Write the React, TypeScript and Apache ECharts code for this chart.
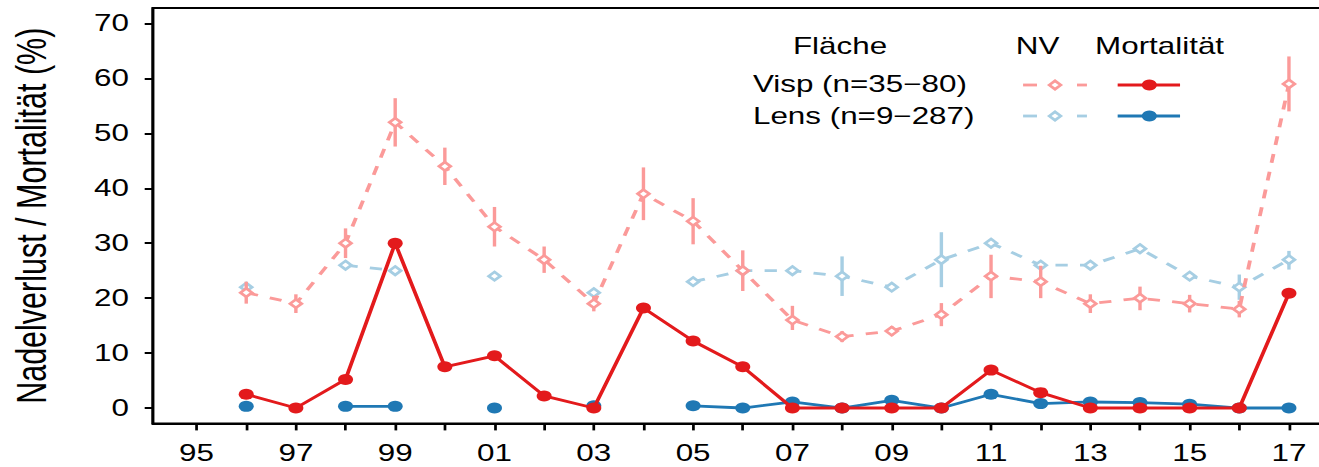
import React, { useEffect, useRef } from "react";
import * as echarts from "echarts";

// ---------- data ----------
const years = [1996, 1997, 1998, 1999, 2000, 2001, 2002, 2003, 2004, 2005, 2006, 2007, 2008, 2009, 2010, 2011, 2012, 2013, 2014, 2015, 2016, 2017];

const vispNV = [21, 19, 30, 52, 44, 33, 27, 19, 39, 34, 25, 16, 13, 14, 17, 24, 23, 19, 20, 19, 18, 59];
const vispNVLo = [19, 17.3, 27.3, 47.6, 40.6, 29.4, 24.6, 17.6, 34.2, 29.8, 21.3, 14.2, 12, 13.1, 14.9, 20, 20, 17.3, 17.8, 17.4, 16.5, 54];
const vispNVHi = [23, 20.7, 32.7, 56.4, 47.4, 36.6, 29.4, 20.4, 43.8, 38.2, 28.7, 18.6, 14, 14.9, 19.1, 27.9, 25.9, 20.7, 22.1, 20.6, 19.5, 64];

const lensNV = [22, null, 26, 25, null, 24, null, 21, null, 23, 25, 25, 24, 22, 27, 30, 26, 26, 29, 24, 22, 27];
const lensNVLo = [21.3, null, 25.6, 24.6, null, 23.6, null, 20.6, null, 22.6, 24.5, 24.5, 20.4, 21.5, 22, 29.3, 25.5, 25.5, 28.2, 23.5, 19.7, 25.2];
const lensNVHi = [22.7, null, 26.4, 25.4, null, 24.4, null, 21.4, null, 23.4, 25.5, 25.5, 27.6, 22.5, 32, 30.7, 26.5, 26.5, 29.8, 24.5, 24.3, 28.6];

const vispMort = [2.5, 0, 5.2, 30, 7.5, 9.5, 2.2, 0, 18.2, 12.2, 7.5, 0, 0, 0, 0, 6.9, 2.8, 0, 0, 0, 0, 20.9];
const lensMort = [0.3, null, 0.3, 0.3, null, 0, null, 0.4, null, 0.4, 0, 1.1, 0, 1.4, 0, 2.5, 0.8, 1.1, 1.0, 0.7, 0, 0];

const xTickYears = [1995, 1996, 1997, 1998, 1999, 2000, 2001, 2002, 2003, 2004, 2005, 2006, 2007, 2008, 2009, 2010, 2011, 2012, 2013, 2014, 2015, 2016, 2017];
const xLabelYears = [1995, 1997, 1999, 2001, 2003, 2005, 2007, 2009, 2011, 2013, 2015, 2017];
const xLabelTexts = ["95", "97", "99", "01", "03", "05", "07", "09", "11", "13", "15", "17"];
const yTicks = [0, 10, 20, 30, 40, 50, 60, 70];

const legendHeader = ["Fläche", "NV", "Mortalität"];
const legendRows = ["Visp (n=35\u221280)", "Lens (n=9\u2212287)"];

// ---------- styles ----------
const FONT = "'Liberation Sans', Arial, Helvetica, sans-serif";
const PINK = "#FB9A99";
const RED = "#E31A1C";
const LBLUE = "#A6CEE3";
const BLUE = "#1F78B4";
const STRETCH = 1.365;

const pairs = (vals: (number | null)[]) => years.map((y, i) => [y, vals[i] == null ? null : vals[i]]);
const errData = (lo: (number | null)[], hi: (number | null)[]) =>
  years.map((y, i) => (lo[i] == null ? null : [y, lo[i], hi[i]])).filter((d) => d != null);

const errSeries = (lo: (number | null)[], hi: (number | null)[], color: string, z: number) => ({
  type: "custom",
  silent: true,
  z,
  data: errData(lo, hi),
  encode: { x: 0, y: [1, 2] },
  renderItem: (params: any, api: any) => {
    const x = api.value(0);
    const p1 = api.coord([x, api.value(1)]);
    const p2 = api.coord([x, api.value(2)]);
    return {
      type: "line",
      shape: { x1: p1[0], y1: p1[1], x2: p2[0], y2: p2[1] },
      style: { stroke: color, lineWidth: 2.5 },
    };
  },
});

const nvSeries = (name: string, vals: (number | null)[], color: string, z: number) => ({
  name,
  type: "line",
  z,
  data: pairs(vals),
  connectNulls: false,
  symbol: "diamond",
  symbolSize: 8.5,
  itemStyle: { color: "#fff", borderColor: color, borderWidth: 2.4 },
  lineStyle: { color, width: 2.8, type: [9, 9] },
});

const mortSeries = (name: string, vals: (number | null)[], color: string, z: number) => ({
  name,
  type: "line",
  z,
  data: pairs(vals),
  connectNulls: false,
  symbol: "circle",
  symbolSize: 11,
  itemStyle: { color },
  lineStyle: { color, width: 2.8 },
});

// legend graphic (unstretched pixel coordinates)
const hdrY = 46;
const rowY = [84, 116];
const symY = [85, 116];
const legendGraphic: any[] = [
  { type: "text", x: 615.4, y: hdrY, style: { text: legendHeader[0], fontSize: 23, fontFamily: FONT, fill: "#000", align: "center", verticalAlign: "middle" } },
  { type: "text", x: 760.1, y: hdrY, style: { text: legendHeader[1], fontSize: 23, fontFamily: FONT, fill: "#000", align: "center", verticalAlign: "middle" } },
  { type: "text", x: 849.5, y: hdrY, style: { text: legendHeader[2], fontSize: 23, fontFamily: FONT, fill: "#000", align: "center", verticalAlign: "middle" } },
];
[
  [PINK, RED],
  [LBLUE, BLUE],
].forEach(([nvc, mc], i) => {
  const ty = rowY[i];
  const sy = symY[i];
  legendGraphic.push(
    { type: "text", x: 551.6, y: ty, style: { text: legendRows[i], fontSize: 23, fontFamily: FONT, fill: "#000", align: "left", verticalAlign: "middle" } },
    { type: "line", shape: { x1: 749.5, y1: sy, x2: 759.7, y2: sy }, style: { stroke: nvc, lineWidth: 2.8 } },
    { type: "line", shape: { x1: 789, y1: sy, x2: 796.3, y2: sy }, style: { stroke: nvc, lineWidth: 2.8 } },
    { type: "polygon", shape: { points: [[768.7, sy], [772.9, sy - 4.2], [777.1, sy], [772.9, sy + 4.2]] }, style: { fill: "#fff", stroke: nvc, lineWidth: 2.4 } },
    { type: "line", shape: { x1: 818.8, y1: sy, x2: 864.5, y2: sy }, style: { stroke: mc, lineWidth: 2.8 } },
    { type: "circle", shape: { cx: 842, cy: sy, r: 5.5 }, style: { fill: mc } }
  );
});

export default function App() {
  const ref = useRef<HTMLDivElement>(null);
  useEffect(() => {
    const chart = echarts.init(ref.current as HTMLDivElement, null, { renderer: "svg" });
    const option: any = {
      animation: false,
      backgroundColor: "#fff",
      grid: { left: 111.3, right: 13.7, top: 8.1, bottom: 43.6, show: true, borderColor: "#000", borderWidth: 2, backgroundColor: "transparent" },
      xAxis: {
        type: "value",
        min: 1994.12,
        max: 2017.88,
        splitLine: { show: false },
        axisLine: { show: true, onZero: false, lineStyle: { color: "#000", width: 2 } },
        axisTick: { show: true, length: 7, customValues: xTickYears, lineStyle: { color: "#000", width: 2 } },
        axisLabel: {
          customValues: xLabelYears,
          formatter: (v: number) => {
            const k = xLabelYears.indexOf(Math.round(v));
            return k >= 0 ? xLabelTexts[k] : "";
          },
          margin: 18,
          color: "#000",
          fontSize: 23,
          fontFamily: FONT,
        },
      },
      yAxis: {
        type: "value",
        min: -2.8,
        max: 72.8,
        name: "Nadelverlust / Mortalität (%)",
        nameLocation: "middle",
        nameRotate: 90,
        nameGap: 73,
        nameTextStyle: { fontSize: 30.5, fontFamily: FONT, color: "#000" },
        splitLine: { show: false },
        axisLine: { show: true, onZero: false, lineStyle: { color: "#000", width: 2 } },
        axisTick: { show: true, length: 6, customValues: yTicks, lineStyle: { color: "#000", width: 2 } },
        axisLabel: { customValues: yTicks, margin: 17.5, color: "#000", fontSize: 23, fontFamily: FONT },
      },
      series: [
        errSeries(lensNVLo, lensNVHi, LBLUE, 1),
        nvSeries("Lens NV", lensNV, LBLUE, 2),
        errSeries(vispNVLo, vispNVHi, PINK, 3),
        nvSeries("Visp NV", vispNV, PINK, 4),
        mortSeries("Lens Mortalität", lensMort, BLUE, 5),
        mortSeries("Visp Mortalität", vispMort, RED, 6),
      ],
      graphic: legendGraphic,
    };
    chart.setOption(option);
    return () => chart.dispose();
  }, []);
  return (
    <div style={{ position: "fixed", left: 0, top: 0, width: 1319, height: 467, overflow: "hidden", background: "#fff" }}>
      <div ref={ref} style={{ width: 990, height: 467, transform: `scaleX(${STRETCH})`, transformOrigin: "0 0" }} />
    </div>
  );
}
